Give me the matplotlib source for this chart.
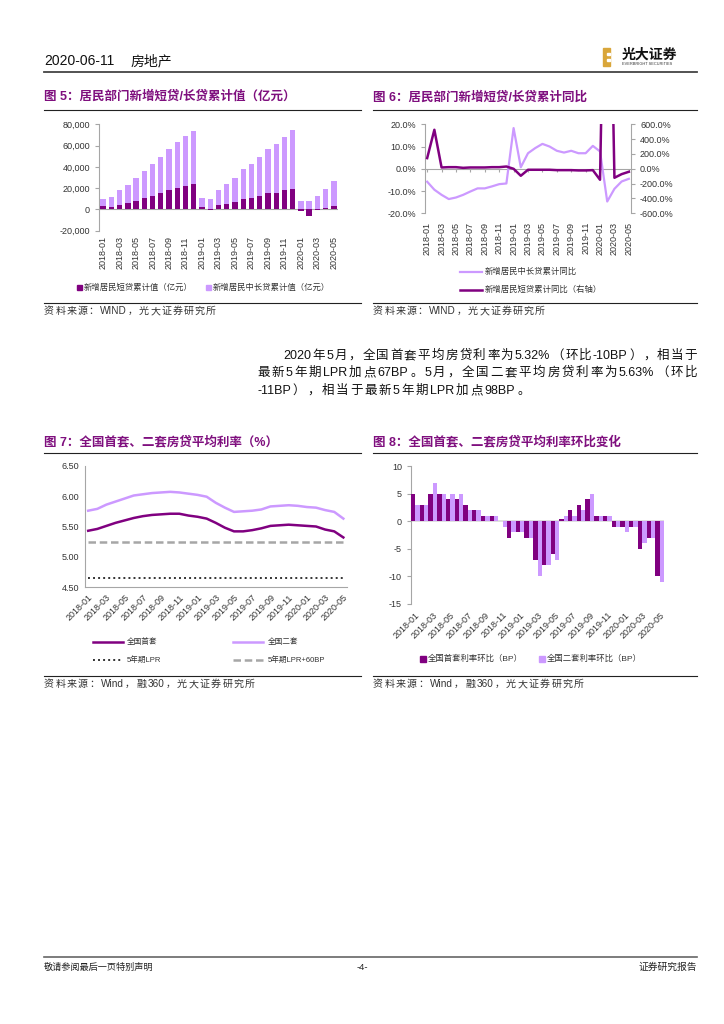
import matplotlib
matplotlib.use('Agg')
import matplotlib.pyplot as plt
import numpy as np
from matplotlib.patches import Rectangle
from matplotlib.lines import Line2D
from matplotlib.ticker import FuncFormatter

plt.rcParams['font.family'] = ['Liberation Sans', 'Noto Sans CJK SC', 'DejaVu Sans']
plt.rcParams['axes.unicode_minus'] = False

W, H = 724, 1024
DARK = '#800080'
LIGHT = '#CC99FF'
TITLE = '#7F0F7E'
GRAY = '#A6A6A6'

# ---- data ----
months = ['2018-01', '2018-02', '2018-03', '2018-04', '2018-05', '2018-06',
          '2018-07', '2018-08', '2018-09', '2018-10', '2018-11', '2018-12',
          '2019-01', '2019-02', '2019-03', '2019-04', '2019-05', '2019-06',
          '2019-07', '2019-08', '2019-09', '2019-10', '2019-11', '2019-12',
          '2020-01', '2020-02', '2020-03', '2020-04', '2020-05']

# fig 5: cumulative new loans (100m yuan)
short_loans = [2800, 2200, 4400, 5900, 8100, 10300, 12200, 15000, 18100, 20000, 21900, 23700,
               2500, -700, 3700, 5000, 6900, 9400, 10300, 12200, 15000, 15300, 17800, 19000,
               -1500, -6000, -1000, 1000, 3500]
long_loans = [6600, 9700, 13700, 17200, 21300, 25950, 30600, 34700, 39100, 43100, 47500, 50300,
              7800, 9400, 15000, 18700, 23100, 28400, 32800, 37500, 42200, 45950, 50300, 55700,
              7800, 8100, 12800, 18000, 22750]

# fig 6: yoy (%)
long_yoy = [-5.8, -9.4, -11.7, -13.6, -12.9, -11.7, -10.2, -8.8, -8.8, -7.9, -6.9, -6.6,
            18.3, 0.7, 7.0, 9.3, 11.2, 10.0, 8.1, 7.3, 8.1, 7.0, 7.0, 10.3,
            7.8, -14.7, -9.0, -5.7, -4.5]
short_yoy = [144, 526, 18, 22, 22, 13, 18, 18, 18, 22, 22, 31,
             0, -94, -13, -13, -13, -13, -18, -18, -18, -22, -22, -18,
             -148, 5000, -121, -72, -40]

# fig 7: mortgage rates (%)
first_rate = [5.43, 5.46, 5.51, 5.56, 5.60, 5.64, 5.67, 5.69, 5.70, 5.71, 5.71, 5.68,
              5.66, 5.63, 5.56, 5.48, 5.42, 5.42, 5.44, 5.47, 5.51, 5.52, 5.53, 5.52,
              5.51, 5.50, 5.45, 5.42, 5.32]
second_rate = [5.76, 5.79, 5.86, 5.91, 5.96, 6.01, 6.03, 6.05, 6.06, 6.07, 6.06, 6.04,
               6.02, 5.99, 5.89, 5.81, 5.74, 5.75, 5.76, 5.78, 5.83, 5.84, 5.85, 5.84,
               5.82, 5.81, 5.77, 5.74, 5.63]
lpr_5y = [4.65] * 29
lpr_60 = [5.25] * 29

# fig 8: mom change (BP)
first_mom = [5, 3, 5, 5, 4, 4, 3, 2, 1, 1, 0, -3, -2, -3, -7, -8, -6, 0.4, 2, 3, 4, 1, 1,
             -1, -1, -1, -5, -3, -10]
second_mom = [3, 3, 7, 5, 5, 5, 2, 2, 1, 1, -1, -2, -2, -3, -10, -8, -7, 1, 1, 2, 5, 1, 1,
              -1, -2, -1, -4, -3, -11]

fig = plt.figure(figsize=(W / 100, H / 100), dpi=100)
renderer = fig.canvas.get_renderer()


def add_ax(l, t, r, b):
    return fig.add_axes([l / W, 1 - b / H, (r - l) / W, (b - t) / H])


def ftext(x, y, s, **kw):
    kw.setdefault('va', 'center')
    return fig.text(x / W, 1 - y / H, s, **kw)


def units_of(s):
    # ascii runs stay together, every other char is its own unit
    out, run = [], ''
    for ch in s:
        if ch == ' ':
            if run:
                out.append(run)
            run = ''
        elif ord(ch) < 128:
            run += ch
        else:
            if run:
                out.append(run)
            run = ''
            out.append(ch)
    if run:
        out.append(run)
    return out


def spaced_text(x0, y, s, x1=None, gap=None, **kw):
    # draw text unit by unit, spread to end at x1 (or with a fixed gap)
    parts = units_of(s)
    objs = [ftext(0, y, p, **kw) for p in parts]
    widths = [o.get_window_extent(renderer).width for o in objs]
    if gap is None:
        gap = (x1 - x0 - sum(widths)) / (len(parts) - 1)
    xc = x0
    for o, w in zip(objs, widths):
        o.set_x(xc / W)
        xc += w + gap
    return gap


def hline(x0, x1, y, lw=0.8, color='#222222'):
    fig.add_artist(Line2D([x0 / W, x1 / W], [1 - y / H, 1 - y / H], lw=lw, color=color))


def frect(x, y, w, h, color):
    fig.add_artist(Rectangle((x / W, 1 - (y + h) / H), w / W, h / H, color=color,
                             transform=fig.transFigure))


def style_ax(ax):
    for s in ['top', 'right', 'bottom']:
        ax.spines[s].set_visible(False)
    ax.spines['left'].set_color(GRAY)
    ax.spines['left'].set_linewidth(0.8)
    ax.tick_params(axis='y', colors='#333333', labelsize=6.5, length=3, width=0.8, color=GRAY)
    ax.tick_params(axis='x', colors='#333333', labelsize=6.5, length=0)
    ax.patch.set_alpha(0)


x = np.arange(len(months))

# ---- header ----
ftext(44, 61, '2020-06-11', fontsize=10, color='#111111')
ftext(131, 61, '房地产', fontsize=10, color='#111111')
hline(44, 697, 72, lw=1.3, color='#444444')
frect(603, 48, 7, 18, '#D9A63A')
frect(607, 53, 3, 2, 'white')
frect(607, 59, 3, 2, 'white')
ftext(622, 55, '光大证券', fontsize=10, fontweight='bold', color='#111111')
ftext(622, 64, 'EVERBRIGHT SECURITIES', fontsize=2.8, color='#333333')

# ---- titles and source lines ----
ftext(44, 97, '图 5：居民部门新增短贷/长贷累计值（亿元）', fontsize=9, fontweight='bold', color=TITLE)
ftext(373, 97, '图 6：居民部门新增短贷/长贷累计同比', fontsize=9, fontweight='bold', color=TITLE)
hline(44, 361, 110)
hline(373, 697, 110)
hline(44, 361, 303)
hline(373, 697, 303)
src_kw = dict(fontsize=7.2, color='#333333')
spaced_text(44, 311, '资料来源：WIND，光大证券研究所', x1=216, **src_kw)
spaced_text(373, 311, '资料来源：WIND，光大证券研究所', x1=545, **src_kw)

ftext(44, 442, '图 7：全国首套、二套房贷平均利率（%）', fontsize=9, fontweight='bold', color=TITLE)
ftext(373, 442, '图 8：全国首套、二套房贷平均利率环比变化', fontsize=9, fontweight='bold', color=TITLE)
hline(44, 361, 453)
hline(373, 697, 453)
hline(44, 361, 676)
hline(373, 697, 676)
spaced_text(44, 684, '资料来源：Wind，融 360，光大证券研究所', x1=255, **src_kw)
spaced_text(373, 684, '资料来源：Wind，融 360，光大证券研究所', x1=584, **src_kw)

# ---- body text ----
body_kw = dict(fontsize=9, color='#111111')
spaced_text(283, 356, '2020 年 5 月，全国首套平均房贷利率为 5.32%（环比-10BP），相当于', x1=697, **body_kw)
g = spaced_text(257, 373, '最新 5 年期 LPR 加点 67BP。5 月，全国二套平均房贷利率为 5.63%（环比', x1=697, **body_kw)
spaced_text(257, 391, '-11BP），相当于最新 5 年期 LPR 加点 98BP。', gap=g, **body_kw)

# ---- footer ----
hline(44, 697, 957, lw=1.2, color='#666666')
ftext(44, 967, '敬请参阅最后一页特别声明', fontsize=6.6, color='#222222')
ftext(362, 967, '-4-', fontsize=6.8, color='#222222', ha='center')
ftext(697, 967, '证券研究报告', fontsize=7, color='#222222', ha='right')

# ---- fig 5 ----
ax5 = add_ax(99, 124.3, 338, 230.7)
style_ax(ax5)
ax5.bar(x, short_loans, width=0.65, color=DARK, zorder=3)
ax5.bar(x, long_loans, bottom=np.maximum(short_loans, 0), width=0.65, color=LIGHT, zorder=3)
ax5.axhline(0, color=GRAY, lw=0.8, zorder=2)
ax5.set_xlim(-0.5, len(months) - 0.5)
ax5.set_ylim(-20000, 80000)
ax5.set_yticks(range(-20000, 80001, 20000))
ax5.yaxis.set_major_formatter(FuncFormatter(lambda v, p: f'{int(v):,}'))
ax5.set_xticks(x[::2])
ax5.set_xticklabels(months[::2], rotation=90)
ax5.tick_params(axis='x', pad=4)

leg_kw = dict(fontsize=6, color='#333333')
frect(77, 285, 5, 5, DARK)
ftext(84, 288, '新增居民短贷累计值（亿元）', **leg_kw)
frect(206, 285, 5, 5, LIGHT)
ftext(213, 288, '新增居民中长贷累计值（亿元）', **leg_kw)

# ---- fig 6 ----
ax6 = add_ax(425, 124.3, 631, 213.3)
style_ax(ax6)
ax6.plot(x, long_yoy, color=LIGHT, lw=1.6, zorder=3)
ax6.axhline(0, color=GRAY, lw=0.8, zorder=2)
ax6.vlines(x[::2], -1.3, 0, color=GRAY, lw=0.8)
ax6.set_xlim(-0.3, len(months) - 0.7)
ax6.set_ylim(-20, 20)
ax6.set_yticks([-20, -10, 0, 10, 20])
ax6.yaxis.set_major_formatter(FuncFormatter(lambda v, p: f'{v:.1f}%'))
ax6.set_xticks(x[::2])
ax6.set_xticklabels(months[::2], rotation=90)
ax6.tick_params(axis='x', pad=6)
ax6r = ax6.twinx()
ax6r.plot(x, short_yoy, color=DARK, lw=1.8, zorder=4)
ax6r.set_ylim(-600, 600)
ax6r.set_yticks(range(-600, 601, 200))
ax6r.yaxis.set_major_formatter(FuncFormatter(lambda v, p: f'{v:.1f}%'))
for s in ['top', 'left', 'bottom']:
    ax6r.spines[s].set_visible(False)
ax6r.spines['right'].set_color(GRAY)
ax6r.spines['right'].set_linewidth(0.8)
ax6r.tick_params(axis='y', colors='#333333', labelsize=6.5, length=3, width=0.8, color=GRAY)

fig.add_artist(Line2D([460 / W, 482 / W], [1 - 272 / H] * 2, lw=1.6, color=LIGHT))
ftext(485, 272, '新增居民中长贷累计同比', **leg_kw)
fig.add_artist(Line2D([460 / W, 482 / W], [1 - 290 / H] * 2, lw=1.8, color=DARK))
ftext(485, 290, '新增居民短贷累计同比（右轴）', **leg_kw)

# ---- fig 7 ----
ax7 = add_ax(85, 465.7, 347, 587.3)
style_ax(ax7)
ax7.spines['bottom'].set_visible(True)
ax7.spines['bottom'].set_color(GRAY)
ax7.spines['bottom'].set_linewidth(0.8)
ax7.plot(x, first_rate, color=DARK, lw=1.8)
ax7.plot(x, second_rate, color=LIGHT, lw=1.8)
ax7.plot(x, lpr_5y, color='#333333', lw=1.4, linestyle=(0, (1, 1.6)))
ax7.plot(x, lpr_60, color=GRAY, lw=1.8, linestyle=(0, (3, 1.5)))
ax7.set_xlim(-0.35, len(months) - 0.6)
ax7.set_ylim(4.5, 6.5)
ax7.set_yticks([4.5, 5.0, 5.5, 6.0, 6.5])
ax7.yaxis.set_major_formatter(FuncFormatter(lambda v, p: f'{v:.2f}'))
ax7.tick_params(axis='y', length=0, pad=4)
ax7.set_xticks(x[::2])
ax7.set_xticklabels(months[::2], rotation=45, ha='right', rotation_mode='anchor')
ax7.tick_params(axis='x', pad=4)

leg7 = dict(fontsize=5.5, color='#333333')
fig.add_artist(Line2D([93 / W, 123 / W], [1 - 642 / H] * 2, lw=1.8, color=DARK))
ftext(127, 642, '全国首套', **leg7)
fig.add_artist(Line2D([233 / W, 263 / W], [1 - 642 / H] * 2, lw=1.8, color=LIGHT))
ftext(268, 642, '全国二套', **leg7)
fig.add_artist(Line2D([93 / W, 123 / W], [1 - 660 / H] * 2, lw=1.4, color='#333333',
                      linestyle=(0, (1, 1.6))))
ftext(127, 660, '5年期LPR', **leg7)
fig.add_artist(Line2D([233 / W, 263 / W], [1 - 660 / H] * 2, lw=1.8, color=GRAY,
                      linestyle=(0, (3, 1.5))))
ftext(268, 660, '5年期LPR+60BP', **leg7)

# ---- fig 8 ----
ax8 = add_ax(411, 466, 664, 603.7)
style_ax(ax8)
ax8.bar(x, first_mom, width=0.5, align='edge', color=DARK, zorder=3)
ax8.bar(x + 0.5, second_mom, width=0.5, align='edge', color=LIGHT, zorder=3)
ax8.axhline(0, color='#D9D9D9', lw=1.2, zorder=2)
ax8.set_xlim(0, len(months))
ax8.set_ylim(-15, 10)
ax8.set_yticks([-15, -10, -5, 0, 5, 10])
ax8.set_xticks(x[::2] + 0.5)
ax8.set_xticklabels(months[::2], rotation=45, ha='right', rotation_mode='anchor')
ax8.tick_params(axis='x', pad=5)

frect(420, 656, 6, 6, DARK)
ftext(428, 659, '全国首套利率环比（BP）', **leg_kw)
frect(539, 656, 6, 6, LIGHT)
ftext(547, 659, '全国二套利率环比（BP）', **leg_kw)

fig.savefig('out.png', dpi=100)
